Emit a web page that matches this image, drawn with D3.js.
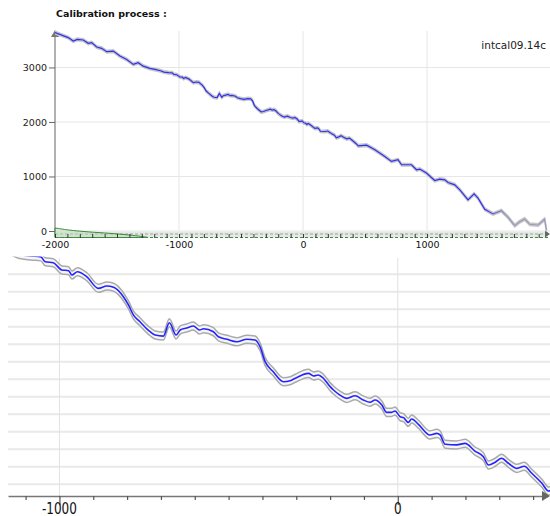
<!DOCTYPE html>
<html>
<head>
<meta charset="utf-8">
<script src="https://cdn.jsdelivr.net/npm/d3@7"></script>
<style>
  body { margin: 0; background: #fff; }
  svg { display: block; font-family: "DejaVu Sans", sans-serif; }
</style>
</head>
<body>
<div id="workspace"></div>
<script>
// data START

// calibration curve (calendar year AD/BC, radiocarbon age BP)
var calYears = [-2000, -1893, -1853, -1820, -1772, -1732, -1704, -1664, -1624, -1583,
                -1530, -1476, -1422, -1369, -1329, -1289, -1235, -1194, -1150, -1121,
                -1085, -1055, -1042, -1018, -993, -973, -963, -947, -919, -885,
                -860, -840, -811, -796, -781, -762, -732, -717, -693, -675,
                -655, -643, -624, -604, -586, -574, -545, -530, -505, -476,
                -446, -422, -407, -392, -368, -338, -318, -303, -264, -249,
                -235, -220, -200, -190, -171, -151, -126, -102, -82, -67,
                -47, -33, -18, -8, 7, 17, 31, 41, 61, 95,
                115, 125, 140, 174, 199, 228, 253, 268, 288, 307,
                327, 352, 374, 396, 426, 445, 512, 579, 659, 713,
                766, 794, 874, 915, 941, 995, 1062, 1102, 1143, 1169,
                1223, 1264, 1330, 1379, 1411, 1465, 1532, 1599, 1653, 1707,
                1747, 1787, 1828, 1895, 1948, 1962];
var calBP = [3639, 3547, 3484, 3515, 3503, 3442, 3455, 3374, 3350, 3289,
             3300, 3208, 3147, 3055, 3087, 3024, 2982, 2963, 2940, 2915,
             2905, 2900, 2872, 2866, 2825, 2821, 2796, 2815, 2786, 2720,
             2733, 2726, 2672, 2625, 2567, 2529, 2472, 2453, 2447, 2523,
             2453, 2482, 2493, 2505, 2482, 2489, 2472, 2443, 2429, 2415,
             2429, 2425, 2386, 2301, 2243, 2186, 2192, 2206, 2234, 2219,
             2225, 2206, 2158, 2139, 2110, 2091, 2106, 2082, 2069, 2082,
             2053, 2011, 2011, 2019, 1986, 1981, 1954, 1973, 1943, 1882,
             1891, 1882, 1829, 1825, 1834, 1790, 1758, 1710, 1726, 1749,
             1720, 1691, 1703, 1663, 1606, 1562, 1575, 1491, 1368, 1276,
             1307, 1215, 1215, 1123, 1136, 1062, 926, 952, 939, 889,
             847, 755, 571, 681, 602, 399, 313, 374, 252, 98,
             171, 221, 123, 110, 215, 18];
var calSigma = 23;

// measured density drawn along the calendar axis
var densYears = [-2000, -1950, -1900, -1800, -1700, -1600, -1500, -1400, -1300, -1250];
var densValues = [1.0, 0.9, 0.8, 0.66, 0.56, 0.48, 0.38, 0.26, 0.12, 0.0];

var topYTicks = [0, 1000, 2000, 3000];
var topXTicks = [-2000, -1000, 0, 1000];
var zoomXTicks = [-1000, 0];
var zoomGrid = [1600, 1700, 1800, 1900, 2000, 2100, 2200, 2300, 2400, 2500, 2600, 2700, 2800];

var titleText = "Calibration process :";
var curveName = "intcal09.14c";

// data END

var pts = calYears.map(function(y, i) { return { year: y, bp: calBP[i] }; });
var dens = densYears.map(function(y, i) { return { year: y, v: densValues[i] }; });

var svg = d3.select("#workspace").append("svg")
            .attr("width", 550)
            .attr("height", 516);

var defs = svg.append("defs");

// ---------- top panel ----------
var tx = d3.scaleLinear().domain([-2000, 1975]).range([55, 548]);
var ty = d3.scaleLinear().domain([0, 3650]).range([231, 32]);

var grad = defs.append("linearGradient")
               .attr("id", "fade")
               .attr("gradientUnits", "userSpaceOnUse")
               .attr("x1", tx(1470)).attr("x2", tx(1640))
               .attr("y1", 0).attr("y2", 0);
grad.append("stop").attr("offset", 0).attr("stop-color", "#3030f0");
grad.append("stop").attr("offset", 1).attr("stop-color", "#9a9abd");

svg.append("text")
   .attr("x", 56)
   .attr("y", 17)
   .attr("font-size", "9.5px")
   .attr("font-weight", "bold")
   .attr("fill", "#111")
   .text(titleText);

svg.append("text")
   .attr("x", 546)
   .attr("y", 49)
   .attr("text-anchor", "end")
   .attr("font-size", "10.5px")
   .attr("fill", "#222")
   .text(curveName);

var topG = svg.append("g");

// grid
topG.selectAll(".hgrid").data(topYTicks).enter().append("line")
   .attr("x1", 55).attr("x2", 550)
   .attr("y1", d => ty(d)).attr("y2", d => ty(d))
   .attr("stroke", "#e6e6e6")
   .attr("stroke-width", 1);
topG.selectAll(".vgrid").data(topXTicks.slice(1)).enter().append("line")
   .attr("x1", d => tx(d)).attr("x2", d => tx(d))
   .attr("y1", 31).attr("y2", 231)
   .attr("stroke", "#e6e6e6")
   .attr("stroke-width", 1);

// y axis
var yAxis = d3.axisLeft(ty).tickValues(topYTicks).tickSize(6).tickSizeOuter(0).tickFormat(d3.format("d"));
var yg = topG.append("g").attr("transform", "translate(55,0)").call(yAxis);
yg.select(".domain").attr("stroke", "#888").attr("stroke-width", 1.3)
  .attr("d", "M0," + 237 + "V" + 35);
yg.selectAll(".tick line").attr("stroke", "#666");
yg.selectAll(".tick text")
  .attr("font-size", "9.5px")
  .attr("font-family", "DejaVu Sans, sans-serif")
  .attr("fill", "#222")
  .attr("x", -8);
topG.append("path")
   .attr("d", "M51,37L55,30L59,37Z")
   .attr("fill", "#777");

// band under the curve
topG.append("rect")
   .attr("x", 55).attr("y", 231.5)
   .attr("width", 493).attr("height", 6)
   .attr("fill", "#e5e9e5");
topG.append("line")
   .attr("x1", 55).attr("x2", 548)
   .attr("y1", 234).attr("y2", 234)
   .attr("stroke", "#a0a0a0")
   .attr("stroke-dasharray", "3,2");
topG.append("line")
   .attr("x1", 55).attr("x2", 548)
   .attr("y1", 237.5).attr("y2", 237.5)
   .attr("stroke", "#3a8a3a")
   .attr("stroke-dasharray", "3,2");

// density
var dy = d3.scaleLinear().domain([0, 1]).range([237.5, 228]);
topG.append("path")
   .datum(dens)
   .attr("d", d3.area().x(d => tx(d.year)).y0(237.5).y1(d => dy(d.v)).curve(d3.curveBasis))
   .attr("fill", "#b9dcb5")
   .attr("fill-opacity", 0.5)
   .attr("stroke", "#3b8a3b")
   .attr("stroke-width", 1);

// x axis
var xAxis = d3.axisBottom(tx).tickValues(d3.range(-2000, 1901, 100)).tickSize(4)
              .tickSizeOuter(0).tickFormat(d => topXTicks.indexOf(d) >= 0 ? String(d) : "");
var xg = topG.append("g").attr("transform", "translate(0,234)").call(xAxis);
xg.select(".domain").remove();
xg.selectAll(".tick line").attr("stroke", "#333");
xg.selectAll(".tick text")
  .attr("font-size", "9.5px")
  .attr("font-family", "DejaVu Sans, sans-serif")
  .attr("fill", "#111")
  .attr("y", 7);
topG.append("path")
   .attr("d", "M545,230.5L550,234L545,237.5Z")
   .attr("fill", "#666");

// curve with envelope
var topClip = defs.append("clipPath").attr("id", "topclip");
topClip.append("rect").attr("x", 55).attr("y", 28).attr("width", 495).attr("height", 204);
var tc = topG.append("g").attr("clip-path", "url(#topclip)");
tc.append("path")
  .datum(pts)
  .attr("d", d3.area().x(d => tx(d.year)).y0(d => ty(d.bp - calSigma)).y1(d => ty(d.bp + calSigma)))
  .attr("fill", "#d0d0d0")
  .attr("stroke", "#c4c4c4")
  .attr("stroke-width", 1.6);
tc.append("path")
  .datum(pts)
  .attr("d", d3.line().x(d => tx(d.year)).y(d => ty(d.bp)))
  .attr("fill", "none")
  .attr("stroke", "url(#fade)")
  .attr("stroke-width", 1.2);

// ---------- zoomed panel ----------
var zx = d3.scaleLinear().domain([-1152, 444]).range([8, 548]);
var zy = d3.scaleLinear().domain([1533, 2902]).range([496, 256.5]);

var zoomG = svg.append("g");

zoomG.selectAll(".zh").data(zoomGrid).enter().append("line")
    .attr("x1", 8).attr("x2", 550)
    .attr("y1", d => zy(d)).attr("y2", d => zy(d))
    .attr("stroke", "#e9e9e9")
    .attr("stroke-width", 2);
zoomG.selectAll(".zv").data(zoomXTicks).enter().append("line")
    .attr("x1", d => zx(d)).attr("x2", d => zx(d))
    .attr("y1", 258).attr("y2", 496)
    .attr("stroke", "#e2e2e2")
    .attr("stroke-width", 1);

var zClip = defs.append("clipPath").attr("id", "zclip");
zClip.append("rect").attr("x", 8).attr("y", 256.5).attr("width", 542).attr("height", 239);
var zc = zoomG.append("g").attr("clip-path", "url(#zclip)");
zc.append("path")
  .datum(pts)
  .attr("d", d3.area().x(d => zx(d.year)).y0(d => zy(d.bp - calSigma)).y1(d => zy(d.bp + calSigma)).curve(d3.curveMonotoneX))
  .attr("fill", "#f6f6f6");
[calSigma, -calSigma].forEach(function(s) {
  zc.append("path")
    .datum(pts)
    .attr("d", d3.line().x(d => zx(d.year)).y(d => zy(d.bp + s)).curve(d3.curveMonotoneX))
    .attr("fill", "none")
    .attr("stroke", "#aaa")
    .attr("stroke-width", 1.5);
});
zc.append("path")
  .datum(pts)
  .attr("d", d3.line().x(d => zx(d.year)).y(d => zy(d.bp)).curve(d3.curveMonotoneX))
  .attr("fill", "none")
  .attr("stroke", "#2323ff")
  .attr("stroke-width", 1.6);

// zoomed axis
var zAxis = d3.axisBottom(zx).tickValues(d3.range(-1100, 401, 100)).tickSize(4)
              .tickSizeOuter(0).tickFormat("");
var zg = zoomG.append("g").attr("transform", "translate(0,496)").call(zAxis);
zg.select(".domain").attr("stroke", "#777").attr("stroke-width", 1.5);
zg.selectAll(".tick line").attr("stroke", "#555").attr("stroke-width", 1.2)
  .attr("y2", d => zoomXTicks.indexOf(d) >= 0 ? 9 : 4);
zoomG.append("path")
    .attr("d", "M542,491L550,496L542,501Z")
    .attr("fill", "#666");
zoomG.selectAll(".zl").data(zoomXTicks).enter().append("text")
    .attr("transform", d => "translate(" + zx(d) + ",514) scale(1,1.3)")
    .attr("text-anchor", "middle")
    .attr("font-size", "12px")
    .attr("fill", "#111")
    .text(d => String(d));
</script>
</body>
</html>
